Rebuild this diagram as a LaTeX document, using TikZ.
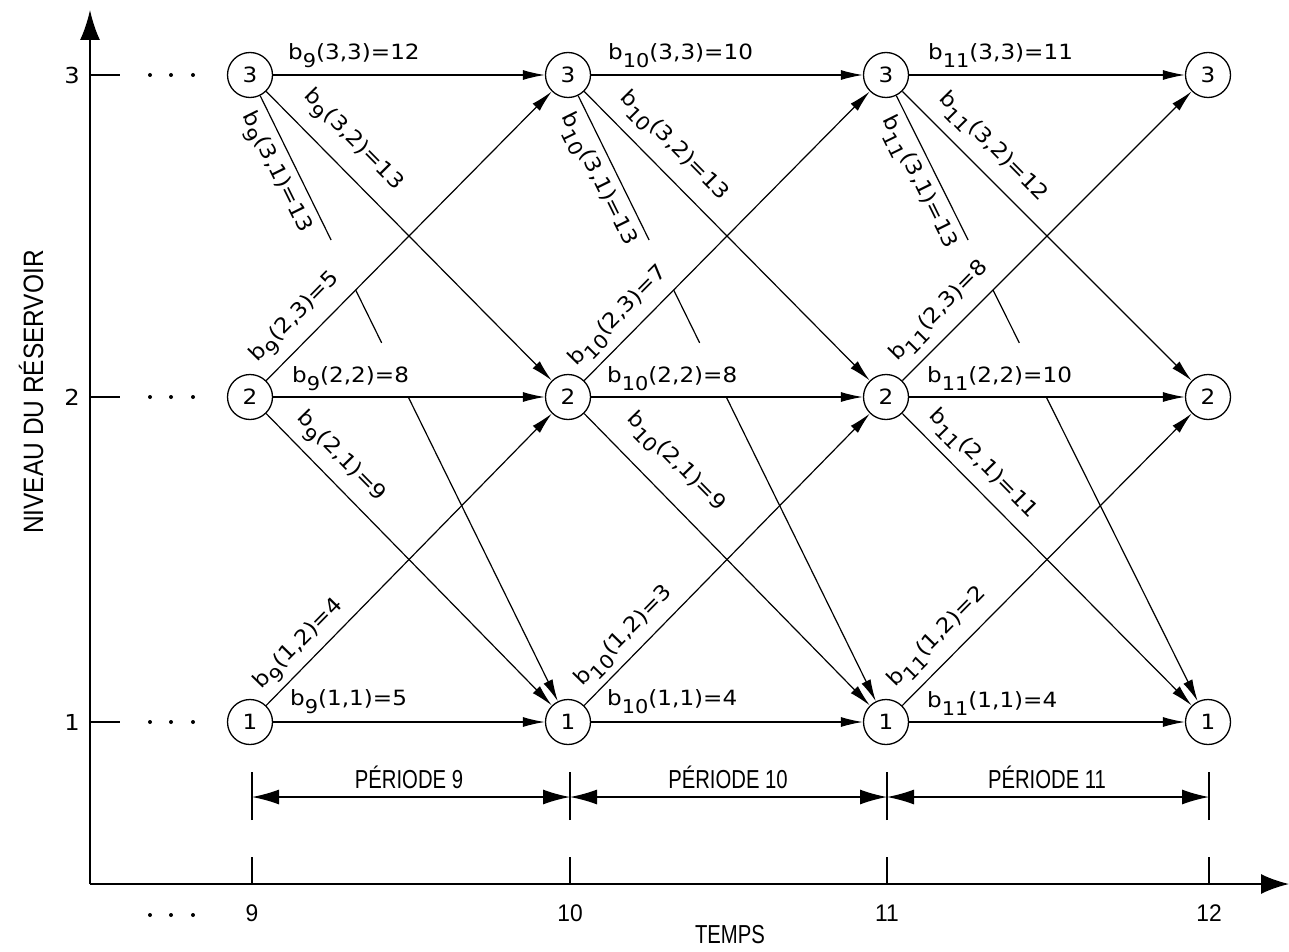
\documentclass[tikz,border=0pt]{standalone}
\usepackage{fontspec}
\setmainfont{DejaVu Sans}
\newfontfamily\lblfont[FakeStretch=1.1]{DejaVu Sans}
\newfontfamily\capfont[FakeStretch=0.78]{Liberation Sans}
\newfontfamily\ticfont[FakeStretch=0.95]{Liberation Sans}
\usetikzlibrary{arrows.meta,calc}
\newcommand\bsub[1]{b\raisebox{-8pt}{\fontsize{19}{19}\selectfont #1}}
\tikzset{
 st/.style={circle, draw, line width=1.3pt, minimum size=45pt, inner sep=0pt, font=\lblfont\fontsize{21}{21}\selectfont},
 edge/.style={line width=1.2pt, -{Latex[length=22pt,width=10pt]}},
 plain/.style={line width=1.2pt},
 lbl/.style={inner sep=0pt, font=\lblfont\fontsize{21}{21}\selectfont},
 axis/.style={line width=2pt},
 tickline/.style={line width=1.4pt},
 dimarrow/.style={line width=1.4pt, {Latex[length=27pt,width=15pt]}-{Latex[length=27pt,width=15pt]}},
 caplbl/.style={font=\capfont\fontsize{26}{26}\selectfont, inner sep=0pt},
 numlbl/.style={font=\lblfont\fontsize{22}{22}\selectfont, inner sep=0pt},
 ticlbl/.style={font=\ticfont\fontsize{24}{24}\selectfont, inner sep=0pt},
 dotmark/.style={fill=black},
}
\begin{document}
\begin{tikzpicture}[x=1pt,y=-1pt]
\useasboundingbox (0,0) rectangle (1289,952);
% axes
\coordinate (O) at (90,884);
\coordinate (Ytop) at (90,10);
\coordinate (Xend) at (1289,884);
\draw[axis,-{Latex[length=30pt,width=20pt]}] (O) -- (Ytop);
\draw[axis,-{Latex[length=28pt,width=20pt]}] (O) -- (Xend);
\node[font=\capfont\fontsize{28}{28}\selectfont, rotate=90, inner sep=0pt, xscale=1.12] (ytitle) at (31,392) {NIVEAU DU RÉSERVOIR};
\node[font=\capfont\fontsize{26}{26}\selectfont, inner sep=0pt] (xtitle) at (730,935) {TEMPS};
% level ticks
\foreach \lv/\yy in {3/75,2/397,1/722}{
  \coordinate (yt\lv) at (90,\yy);
  \coordinate (ye\lv) at (120,\yy);
  \draw[tickline] (yt\lv) -- (ye\lv);
  \node[numlbl] (yl\lv) at (72,\yy) {\lv};
  \foreach \dx in {150,171,193}{\fill[dotmark] (\dx,\yy) circle (2pt);}
}
\foreach \dx in {150,171,193}{\fill[dotmark] (\dx,915) circle (2pt);}
% time ticks
\foreach \t/\xx in {9/252,10/570,11/887,12/1209}{
  \coordinate (tb\t) at (\xx,884);
  \coordinate (tt\t) at (\xx,857);
  \draw[tickline] (tb\t) -- (tt\t);
  \node[ticlbl] (tl\t) at (\xx,913) {\t};
  \coordinate (db\t) at (\xx,820);
  \coordinate (dt\t) at (\xx,772);
  \coordinate (dm\t) at (\xx,797);
  \draw[tickline] (db\t) -- (dt\t);
}
\draw[dimarrow] (dm9) -- (dm10);
\draw[dimarrow] (dm10) -- (dm11);
\draw[dimarrow] (dm11) -- (dm12);
\node[caplbl] (p9) at (409,777) {PÉRIODE 9};
\node[caplbl] (p10) at (728,777) {PÉRIODE 10};
\node[caplbl] (p11) at (1047,777) {PÉRIODE 11};
% states
\foreach \c/\xx in {a/250,b/568,c/886,d/1208}{
  \node[st] (\c3) at (\xx,75) {3};
  \node[st] (\c2) at (\xx,397) {2};
  \node[st] (\c1) at (\xx,722) {1};
}
% transitions
\foreach \u/\v in {a/b,b/c,c/d}{
  \draw[edge] (\u3) -- (\v3);
  \draw[edge] (\u3) -- (\v2);
  \draw[plain] (\u3) -- ($(\u3.center)!0.255!(\v1.center)$);
  \draw[plain] ($(\u3.center)!0.332!(\v1.center)$) -- ($(\u3.center)!0.414!(\v1.center)$);
  \draw[edge] ($(\u3.center)!0.498!(\v1.center)$) -- (\v1);
  \draw[edge] (\u2) -- (\v3);
  \draw[edge] (\u2) -- (\v2);
  \draw[edge] (\u2) -- (\v1);
  \draw[edge] (\u1) -- (\v2);
  \draw[edge] (\u1) -- (\v1);
}
% labels period 9
\node[lbl,anchor=base west] (la33) at (288,60) {\bsub{9}(3,3)=12};
\node[lbl,rotate=-45.4] (la32) at (352,141) {\bsub{9}(3,2)=13};
\node[lbl,rotate=-63.8] (la31) at (275,173) {\bsub{9}(3,1)=13};
\node[lbl,rotate=45.4] (la23) at (296,318) {\bsub{9}(2,3)=5};
\node[lbl,anchor=base west] (la22) at (292,382) {\bsub{9}(2,2)=8};
\node[lbl,rotate=-45.6] (la21) at (340,458) {\bsub{9}(2,1)=9};
\node[lbl,rotate=45.6] (la12) at (300,645) {\bsub{9}(1,2)=4};
\node[lbl,anchor=base west] (la11) at (290,705) {\bsub{9}(1,1)=5};
% labels period 10
\node[lbl,anchor=base west] (lb33) at (608,60) {\bsub{10}(3,3)=10};
\node[lbl,rotate=-45.4] (lb32) at (673,147) {\bsub{10}(3,2)=13};
\node[lbl,rotate=-63.8] (lb31) at (597,180) {\bsub{10}(3,1)=13};
\node[lbl,rotate=45.4] (lb23) at (619,317) {\bsub{10}(2,3)=7};
\node[lbl,anchor=base west] (lb22) at (607,382) {\bsub{10}(2,2)=8};
\node[lbl,rotate=-45.6] (lb21) at (675,463) {\bsub{10}(2,1)=9};
\node[lbl,rotate=45.6] (lb12) at (625,637) {\bsub{10}(1,2)=3};
\node[lbl,anchor=base west] (lb11) at (607,705) {\bsub{10}(1,1)=4};
% labels period 11
\node[lbl,anchor=base west] (lc33) at (928,60) {\bsub{11}(3,3)=11};
\node[lbl,rotate=-45.4] (lc32) at (992,148) {\bsub{11}(3,2)=12};
\node[lbl,rotate=-63.8] (lc31) at (918,183) {\bsub{11}(3,1)=13};
\node[lbl,rotate=45.4] (lc23) at (940,312) {\bsub{11}(2,3)=8};
\node[lbl,anchor=base west] (lc22) at (927,382) {\bsub{11}(2,2)=10};
\node[lbl,rotate=-45.6] (lc21) at (982,465) {\bsub{11}(2,1)=11};
\node[lbl,rotate=45.6] (lc12) at (938,638) {\bsub{11}(1,2)=2};
\node[lbl,anchor=base west] (lc11) at (927,707) {\bsub{11}(1,1)=4};
\end{tikzpicture}
\end{document}
